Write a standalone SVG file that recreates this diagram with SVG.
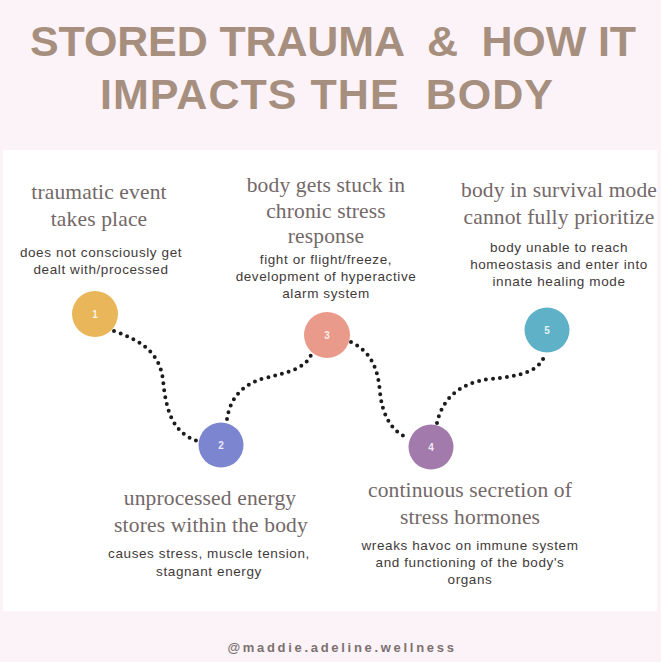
<svg xmlns="http://www.w3.org/2000/svg" width="661" height="662" viewBox="0 0 661 662">
<style>
.title{font-family:"Liberation Sans",Arial,sans-serif;font-weight:bold;font-size:43px;fill:#a68f7e;}
.head{font-family:"Liberation Serif","Times New Roman",serif;font-size:21.5px;fill:#736868;text-anchor:middle;letter-spacing:0.15px;}
.sub{font-family:"Liberation Sans",Arial,sans-serif;font-size:13.5px;fill:#3f3a3a;text-anchor:middle;letter-spacing:0.6px;}
.num{font-family:"Liberation Sans",Arial,sans-serif;font-weight:bold;font-size:10px;fill:#fff;fill-opacity:0.85;text-anchor:middle;}
.dots{fill:none;stroke:#1c1c1c;stroke-width:4;stroke-linecap:round;stroke-dasharray:0 7;}
.foot{font-family:"Liberation Sans",Arial,sans-serif;font-weight:bold;font-size:13px;fill:#7b7070;text-anchor:middle;letter-spacing:2.7px;}
</style>
<rect width="661" height="662" fill="#fbf3f8"/>
<rect x="3" y="150" width="654" height="461" fill="#ffffff"/>
<g id="title">
<text class="title" x="30" y="56" textLength="606" lengthAdjust="spacing" xml:space="preserve">STORED TRAUMA  &amp;  HOW IT</text>
<text class="title" x="100" y="109" textLength="453" lengthAdjust="spacing" xml:space="preserve">IMPACTS THE  BODY</text>
</g>
<g id="connectors">
<path class="dots" d="M114,331 C145,342 160,355 163,380 C166,410 172,432 197,441"/>
<path class="dots" d="M227,419 C230,400 240,385 265,378 C290,372 305,368 311,355"/>
<path class="dots" d="M351,342 C372,352 378,370 380,392 C382,415 392,432 408,438"/>
<path class="dots" d="M437,423 C442,400 458,383 490,379 C520,376 540,372 545,354"/>
</g>
<g id="node1">
<circle cx="95" cy="314" r="23" fill="#e9b659"/>
<text class="num" x="95" y="318">1</text>
<text class="head" x="99" y="199">traumatic event</text>
<text class="head" x="99" y="226">takes place</text>
<text class="sub" x="101" y="257">does not consciously get</text>
<text class="sub" x="101" y="274">dealt with/processed</text>
</g>
<g id="node2">
<circle cx="221" cy="445" r="22.5" fill="#7c86d0"/>
<text class="num" x="221" y="449">2</text>
<text class="head" x="210" y="505">unprocessed energy</text>
<text class="head" x="211" y="532">stores within the body</text>
<text class="sub" x="209" y="558">causes stress, muscle tension,</text>
<text class="sub" x="209" y="576">stagnant energy</text>
</g>
<g id="node3">
<circle cx="327" cy="335" r="23" fill="#e99a8a"/>
<text class="num" x="327" y="339">3</text>
<text class="head" x="326" y="192">body gets stuck in</text>
<text class="head" x="326" y="218">chronic stress</text>
<text class="head" x="326" y="243">response</text>
<text class="sub" x="326" y="264">fight or flight/freeze,</text>
<text class="sub" x="326" y="281">development of hyperactive</text>
<text class="sub" x="326" y="298">alarm system</text>
</g>
<g id="node4">
<circle cx="431" cy="447" r="22.5" fill="#a27bac"/>
<text class="num" x="431" y="451">4</text>
<text class="head" x="470" y="497">continuous secretion of</text>
<text class="head" x="470" y="524">stress hormones</text>
<text class="sub" x="470" y="550">wreaks havoc on immune system</text>
<text class="sub" x="470" y="567">and functioning of the body's</text>
<text class="sub" x="470" y="584">organs</text>
</g>
<g id="node5">
<circle cx="547" cy="330" r="22.5" fill="#5eb1c6"/>
<text class="num" x="547" y="334">5</text>
<text class="head" x="559" y="197">body in survival mode</text>
<text class="head" x="559" y="224">cannot fully prioritize</text>
<text class="sub" x="559" y="252">body unable to reach</text>
<text class="sub" x="559" y="269">homeostasis and enter into</text>
<text class="sub" x="559" y="286">innate healing mode</text>
</g>
<g id="footer">
<text class="foot" x="342" y="652">@maddie.adeline.wellness</text>
</g>
</svg>
